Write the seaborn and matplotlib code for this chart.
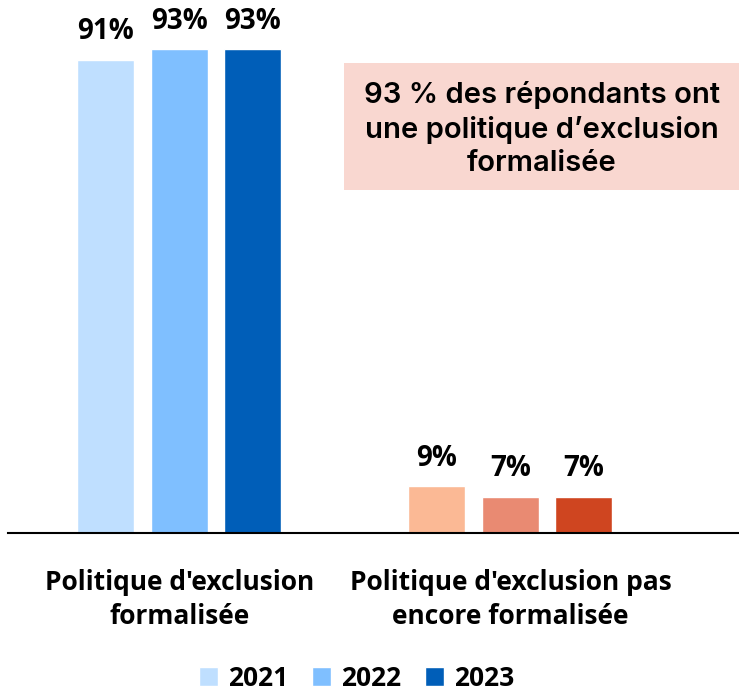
import matplotlib
matplotlib.use('Agg')
import matplotlib.pyplot as plt
import seaborn as sns
import pandas as pd

# data
categories = ["Politique d'exclusion\nformalisée", "Politique d'exclusion pas\nencore formalisée"]
years = ['2021', '2022', '2023']
formalised = [91, 93, 93]
not_formalised = [9, 7, 7]
blues = ['#BFDFFF', '#7FBFFF', '#005EB8']
oranges = ['#FBB995', '#E98A72', '#CF4520']
note = "93 % des répondants ont\nune politique d’exclusion\nformalisée"

df = pd.DataFrame({
    'category': [categories[0]] * 3 + [categories[1]] * 3,
    'year': years * 2,
    'value': formalised + not_formalised,
})

sns.set_style('white')
plt.rcParams['font.family'] = ['Open Sans', 'DejaVu Sans']
plt.rcParams['text.color'] = 'black'
plt.rcParams['xtick.color'] = 'black'

fig = plt.figure(figsize=(7.39, 6.91), dpi=100)
ax = fig.add_axes([8 / 739, 1 - 533 / 691, 731 / 739, 520 / 691])

sns.barplot(data=df, x='category', y='value', hue='year', palette=blues,
            saturation=1, width=0.666, gap=0.225, ax=ax, legend=True)

# recolour the second group (orange tones), label each bar
for i, cont in enumerate(ax.containers):
    for j, bar in enumerate(cont):
        if j == 1:
            bar.set_facecolor(oranges[i])
        h = bar.get_height()
        ax.text(bar.get_x() + bar.get_width() / 2, h + 2.6, f"{h:.0f}%",
                ha='center', va='bottom', fontsize=20, fontweight='bold')

ax.set_xlim(-0.517, 1.69)
ax.set_ylim(0, 100)
ax.set_xlabel('')
ax.set_ylabel('')
ax.set_yticks([])
for s in ['top', 'right', 'left']:
    ax.spines[s].set_visible(False)
ax.spines['bottom'].set_color('black')
ax.spines['bottom'].set_linewidth(1.5)
ax.tick_params(axis='x', length=0, pad=26)
for lab in ax.get_xticklabels():
    lab.set_fontsize(19)
    lab.set_fontweight('bold')
    lab.set_linespacing(1.35)

ax.legend(loc='center', bbox_to_anchor=(357 / 739, 1 - 678 / 691), bbox_transform=fig.transFigure,
          ncol=3, frameon=False, handlelength=0.7, handleheight=0.7, handletextpad=0.4,
          columnspacing=0.9, prop={'size': 19, 'weight': 'bold'})

# annotation box
fig.patches.append(plt.Rectangle((344 / 739, 1 - 190 / 691), 395 / 739, 127 / 691,
                                 transform=fig.transFigure, facecolor='#F9D7D0',
                                 edgecolor='none', zorder=0))
fig.text(542 / 739, 1 - 129 / 691, note, ha='center', va='center', fontsize=21,
         fontweight='semibold', linespacing=1.3, family=['Inter', 'DejaVu Sans'])

fig.savefig('out.png', dpi=100)
